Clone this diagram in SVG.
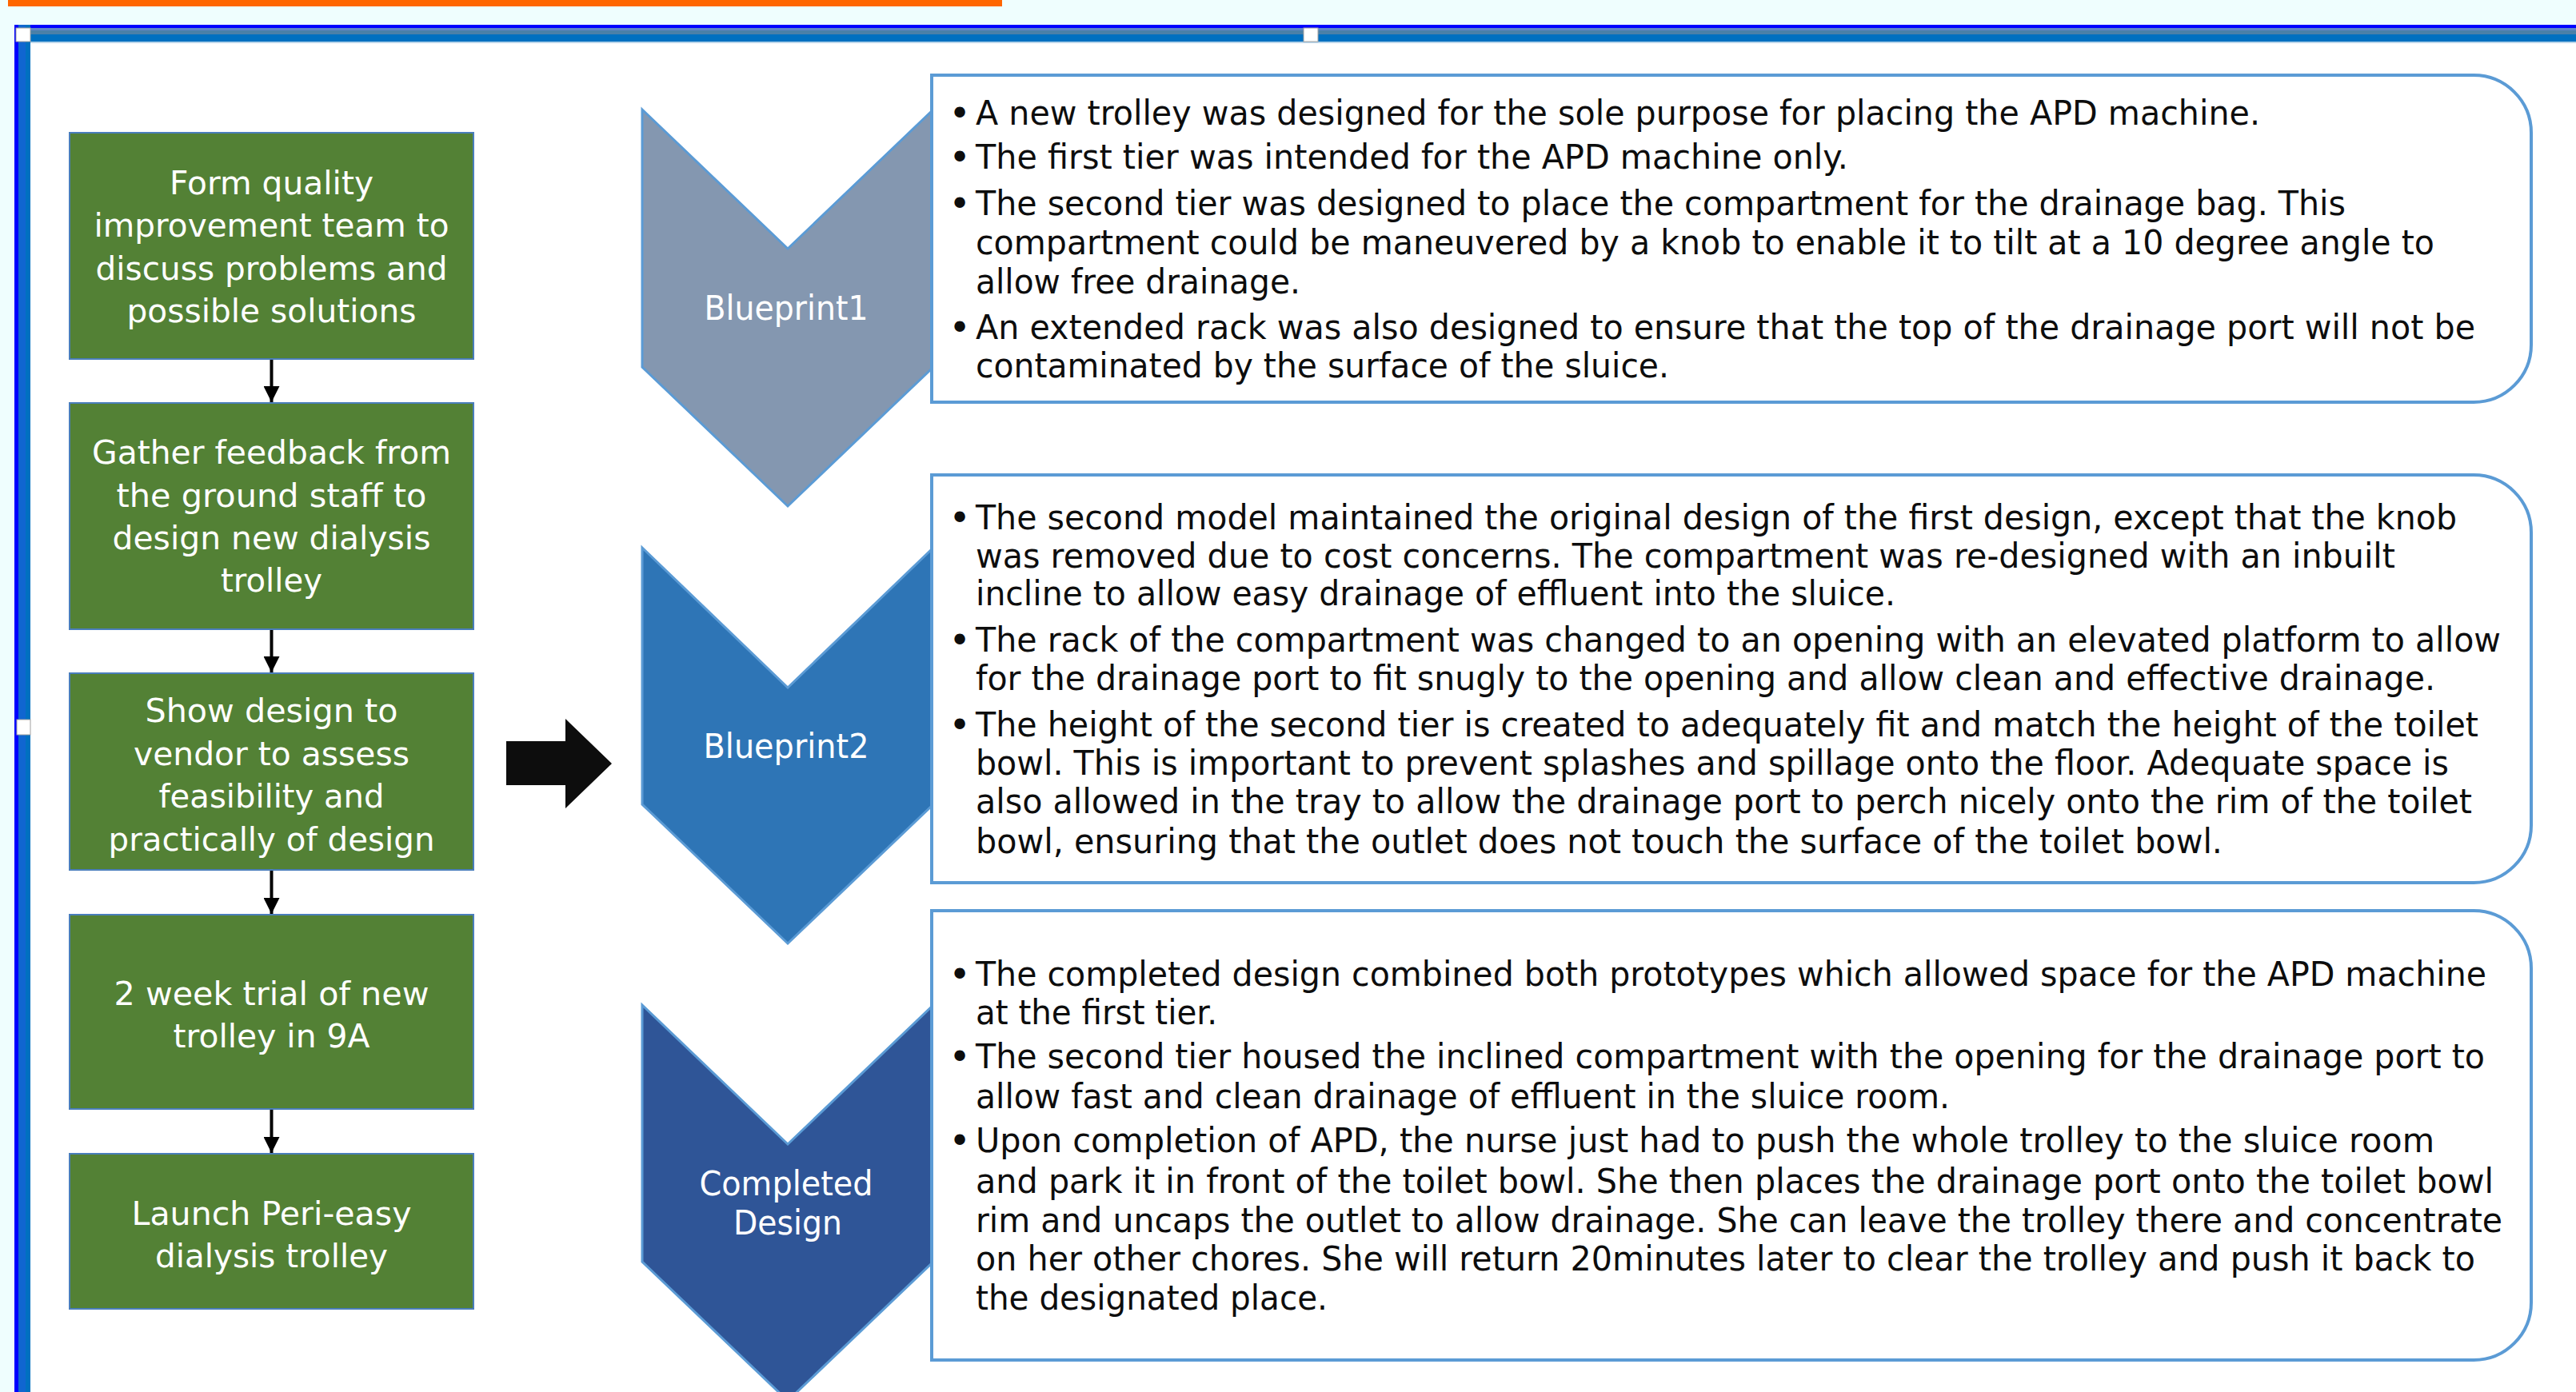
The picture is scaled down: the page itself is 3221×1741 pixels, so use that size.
<svg xmlns="http://www.w3.org/2000/svg" width="3221" height="1741" viewBox="0 0 3221 1741">
<style>
.gbox{fill:#538135;stroke:#4a7ebb;stroke-width:2}
.gt{font-family:"DejaVu Sans","Verdana",sans-serif;font-size:41px;fill:#ffffff;text-anchor:middle}
.chev{stroke:#5b9bd5;stroke-width:3}
.ct{font-family:"DejaVu Sans","Verdana",sans-serif;font-size:42px;fill:#ffffff;text-anchor:middle}
.tbox{fill:#ffffff;stroke:#5b9bd5;stroke-width:4}
.bt{font-family:"DejaVu Sans","Verdana",sans-serif;font-size:43px;fill:#0d0d0d}
.bul{font-family:"DejaVu Sans",sans-serif;font-size:46px;fill:#0d0d0d;text-anchor:middle}
.conn{stroke:#000000;stroke-width:4;fill:none}
.handle{fill:#ffffff;stroke:#a0a0a0;stroke-width:1}
</style>
<defs>
<marker id="ah" viewBox="0 0 10 10" refX="10" refY="5" markerWidth="5.5" markerHeight="5" orient="auto" markerUnits="strokeWidth">
<path d="M0,0 L10,5 L0,10 Z" fill="#000000"/>
</marker>
</defs>
<!-- background / frame -->
<rect x="0" y="0" width="3221" height="1741" fill="#effefe"/>
<rect x="10" y="0" width="1243" height="8" fill="#ff6600"/>
<rect x="18" y="31" width="3203" height="1710" fill="#ffffff"/>
<rect x="18" y="31" width="3203" height="4" fill="#0000ff"/>
<rect x="18" y="35" width="3203" height="3" fill="#5f86c8"/>
<rect x="18" y="38" width="3203" height="5" fill="#4a80a8"/>
<rect x="18" y="43" width="3203" height="9" fill="#0070c0"/>
<rect x="18" y="52" width="3203" height="2" fill="#b8d4ea"/>
<rect x="18" y="31" width="5" height="1710" fill="#0000ff"/>
<rect x="23" y="31" width="9" height="1710" fill="#1066d0"/>
<rect x="32" y="31" width="6" height="1710" fill="#0070c0"/>
<rect class="handle" x="20" y="35" width="18" height="17"/>
<rect class="handle" x="1630" y="35" width="18" height="17"/>
<rect class="handle" x="21" y="900" width="17" height="19"/>

<!-- connectors -->
<g id="connectors">
<line class="conn" x1="339.5" y1="450" x2="339.5" y2="503" marker-end="url(#ah)"/>
<line class="conn" x1="339.5" y1="788" x2="339.5" y2="841" marker-end="url(#ah)"/>
<line class="conn" x1="339.5" y1="1089" x2="339.5" y2="1143" marker-end="url(#ah)"/>
<line class="conn" x1="339.5" y1="1388" x2="339.5" y2="1442" marker-end="url(#ah)"/>
<polygon id="big-arrow" points="633,927 707,927 707,899 765,955 707,1011 707,982 633,982" fill="#0d0d0d"/>
</g>

<!-- process steps -->
<g id="step1">
<rect class="gbox" x="87" y="166" width="505" height="283"/>
<text class="gt" x="339.5" y="243" textLength="255" lengthAdjust="spacingAndGlyphs">Form quality</text>
<text class="gt" x="339.5" y="296" textLength="444" lengthAdjust="spacingAndGlyphs">improvement team to</text>
<text class="gt" x="339.5" y="350" textLength="440" lengthAdjust="spacingAndGlyphs">discuss problems and</text>
<text class="gt" x="339.5" y="403" textLength="362" lengthAdjust="spacingAndGlyphs">possible solutions</text>
</g>
<g id="step2">
<rect class="gbox" x="87" y="504" width="505" height="283"/>
<text class="gt" x="339.5" y="580" textLength="449" lengthAdjust="spacingAndGlyphs">Gather feedback from</text>
<text class="gt" x="339.5" y="634" textLength="388" lengthAdjust="spacingAndGlyphs">the ground staff to</text>
<text class="gt" x="339.5" y="687" textLength="398" lengthAdjust="spacingAndGlyphs">design new dialysis</text>
<text class="gt" x="339.5" y="740" textLength="127" lengthAdjust="spacingAndGlyphs">trolley</text>
</g>
<g id="step3">
<rect class="gbox" x="87" y="842" width="505" height="246"/>
<text class="gt" x="339.5" y="903" textLength="316" lengthAdjust="spacingAndGlyphs">Show design to</text>
<text class="gt" x="339.5" y="957" textLength="345" lengthAdjust="spacingAndGlyphs">vendor to assess</text>
<text class="gt" x="339.5" y="1010" textLength="282" lengthAdjust="spacingAndGlyphs">feasibility and</text>
<text class="gt" x="339.5" y="1064" textLength="408" lengthAdjust="spacingAndGlyphs">practically of design</text>
</g>
<g id="step4">
<rect class="gbox" x="87" y="1144" width="505" height="243"/>
<text class="gt" x="339.5" y="1257" textLength="394" lengthAdjust="spacingAndGlyphs">2 week trial of new</text>
<text class="gt" x="339.5" y="1310" textLength="246" lengthAdjust="spacingAndGlyphs">trolley in 9A</text>
</g>
<g id="step5">
<rect class="gbox" x="87" y="1443" width="505" height="194"/>
<text class="gt" x="339.5" y="1532" textLength="350" lengthAdjust="spacingAndGlyphs">Launch Peri-easy</text>
<text class="gt" x="339.5" y="1585" textLength="291" lengthAdjust="spacingAndGlyphs">dialysis trolley</text>
</g>

<!-- chevrons -->
<g id="blueprint1">
<polygon class="chev" fill="#8497b0" points="803,137 985,311 1167,137 1167,459 985,633 803,459"/>
<text class="ct" x="983" y="400" textLength="205" lengthAdjust="spacingAndGlyphs">Blueprint1</text>
</g>
<g id="blueprint2">
<polygon class="chev" fill="#2e75b6" points="803,685 985,860 1167,685 1167,1006 985,1180 803,1006"/>
<text class="ct" x="983" y="948" textLength="207" lengthAdjust="spacingAndGlyphs">Blueprint2</text>
</g>
<g id="completed-design">
<polygon class="chev" fill="#2f5597" points="803,1257 985,1431 1167,1257 1167,1578 985,1752 803,1578"/>
<text class="ct" x="983" y="1495" textLength="217" lengthAdjust="spacingAndGlyphs">Completed</text>
<text class="ct" x="985" y="1544" textLength="136" lengthAdjust="spacingAndGlyphs">Design</text>
</g>

<!-- description boxes -->
<g id="desc1">
<path class="tbox" d="M1165,94 H3093 A72,72 0 0 1 3165,166 V431 A72,72 0 0 1 3093,503 H1165 Z"/>
<text class="bul" x="1200" y="158">•</text>
<text class="bul" x="1200" y="213">•</text>
<text class="bul" x="1200" y="271">•</text>
<text class="bul" x="1200" y="426">•</text>
<text class="bt" x="1220" y="156" textLength="1606" lengthAdjust="spacingAndGlyphs">A new trolley was designed for the sole purpose for placing the APD machine.</text>
<text class="bt" x="1220" y="211" textLength="1091" lengthAdjust="spacingAndGlyphs">The first tier was intended for the APD machine only.</text>
<text class="bt" x="1220" y="269" textLength="1713" lengthAdjust="spacingAndGlyphs">The second tier was designed to place the compartment for the drainage bag. This</text>
<text class="bt" x="1220" y="318" textLength="1824" lengthAdjust="spacingAndGlyphs">compartment could be maneuvered by a knob to enable it to tilt at a 10 degree angle to</text>
<text class="bt" x="1220" y="367" textLength="406" lengthAdjust="spacingAndGlyphs">allow free drainage.</text>
<text class="bt" x="1220" y="424" textLength="1875" lengthAdjust="spacingAndGlyphs">An extended rack was also designed to ensure that the top of the drainage port will not be</text>
<text class="bt" x="1220" y="472" textLength="867" lengthAdjust="spacingAndGlyphs">contaminated by the surface of the sluice.</text>
</g>
<g id="desc2">
<path class="tbox" d="M1165,594 H3093 A72,72 0 0 1 3165,666 V1032 A72,72 0 0 1 3093,1104 H1165 Z"/>
<text class="bul" x="1200" y="664">•</text>
<text class="bul" x="1200" y="817">•</text>
<text class="bul" x="1200" y="923">•</text>
<text class="bt" x="1220" y="662" textLength="1852" lengthAdjust="spacingAndGlyphs">The second model maintained the original design of the first design, except that the knob</text>
<text class="bt" x="1220" y="710" textLength="1775" lengthAdjust="spacingAndGlyphs">was removed due to cost concerns. The compartment was re-designed with an inbuilt</text>
<text class="bt" x="1220" y="757" textLength="1150" lengthAdjust="spacingAndGlyphs">incline to allow easy drainage of effluent into the sluice.</text>
<text class="bt" x="1220" y="815" textLength="1907" lengthAdjust="spacingAndGlyphs">The rack of the compartment was changed to an opening with an elevated platform to allow</text>
<text class="bt" x="1220" y="863" textLength="1825" lengthAdjust="spacingAndGlyphs">for the drainage port to fit snugly to the opening and allow clean and effective drainage.</text>
<text class="bt" x="1220" y="921" textLength="1879" lengthAdjust="spacingAndGlyphs">The height of the second tier is created to adequately fit and match the height of the toilet</text>
<text class="bt" x="1220" y="969" textLength="1842" lengthAdjust="spacingAndGlyphs">bowl. This is important to prevent splashes and spillage onto the floor. Adequate space is</text>
<text class="bt" x="1220" y="1017" textLength="1871" lengthAdjust="spacingAndGlyphs">also allowed in the tray to allow the drainage port to perch nicely onto the rim of the toilet</text>
<text class="bt" x="1220" y="1067" textLength="1559" lengthAdjust="spacingAndGlyphs">bowl, ensuring that the outlet does not touch the surface of the toilet bowl.</text>
</g>
<g id="desc3">
<path class="tbox" d="M1165,1139 H3093 A72,72 0 0 1 3165,1211 V1629 A72,72 0 0 1 3093,1701 H1165 Z"/>
<text class="bul" x="1200" y="1235">•</text>
<text class="bul" x="1200" y="1338">•</text>
<text class="bul" x="1200" y="1443">•</text>
<text class="bt" x="1220" y="1233" textLength="1889" lengthAdjust="spacingAndGlyphs">The completed design combined both prototypes which allowed space for the APD machine</text>
<text class="bt" x="1220" y="1281" textLength="302" lengthAdjust="spacingAndGlyphs">at the first tier.</text>
<text class="bt" x="1220" y="1336" textLength="1887" lengthAdjust="spacingAndGlyphs">The second tier housed the inclined compartment with the opening for the drainage port to</text>
<text class="bt" x="1220" y="1386" textLength="1218" lengthAdjust="spacingAndGlyphs">allow fast and clean drainage of effluent in the sluice room.</text>
<text class="bt" x="1220" y="1441" textLength="1824" lengthAdjust="spacingAndGlyphs">Upon completion of APD, the nurse just had to push the whole trolley to the sluice room</text>
<text class="bt" x="1220" y="1492" textLength="1898" lengthAdjust="spacingAndGlyphs">and park it in front of the toilet bowl. She then places the drainage port onto the toilet bowl</text>
<text class="bt" x="1220" y="1541" textLength="1909" lengthAdjust="spacingAndGlyphs">rim and uncaps the outlet to allow drainage. She can leave the trolley there and concentrate</text>
<text class="bt" x="1220" y="1589" textLength="1875" lengthAdjust="spacingAndGlyphs">on her other chores. She will return 20minutes later to clear the trolley and push it back to</text>
<text class="bt" x="1220" y="1638" textLength="440" lengthAdjust="spacingAndGlyphs">the designated place.</text>
</g>
</svg>
